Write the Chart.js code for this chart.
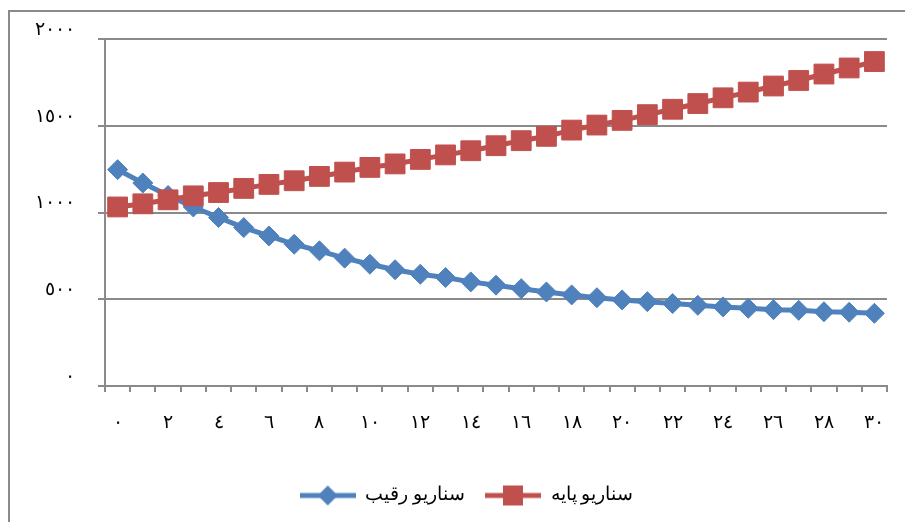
<!DOCTYPE html>
<html>
<head>
<meta charset="utf-8">
<script src="https://cdn.jsdelivr.net/npm/chart.js@4"></script>
<style>
  body { margin: 0; background: #fff; }
  #wrap { position: relative; width: 905px; height: 522px; }
</style>
</head>
<body>
<div id="wrap"><canvas id="scenarioChart"></canvas></div>
<script>
// Data
const categories = ['٠','١','٢','٣','٤','٥','٦','٧','٨','٩','١٠','١١','١٢','١٣','١٤','١٥',
                    '١٦','١٧','١٨','١٩','٢٠','٢١','٢٢','٢٣','٢٤','٢٥','٢٦','٢٧','٢٨','٢٩','٣٠'];
const yTickLabels = ['٠','٥٠٠','١٠٠٠','١٥٠٠','٢٠٠٠'];
const seriesNames = ['سناريو رقيب', 'سناريو پايه'];
const rivalScenario = [1247,1170,1098,1032,971,913,865,817,779,737,702,670,644,625,600,581,
                       561,542,525,509,496,486,475,465,456,448,440,436,428,425,419];
const baseScenario = [1032,1050,1073,1096,1115,1139,1162,1183,1208,1233,1260,1280,1306,1332,1356,1385,
                      1414,1439,1475,1504,1531,1564,1595,1628,1661,1694,1729,1761,1798,1833,1870];

const BLUE = '#4F81BD';
const RED = '#C0504D';
const GRID = '#8a8a8a';
const FONT = "'Times New Roman', 'Liberation Serif', 'DejaVu Serif', serif";

// line + marker sample for the legend
function legendMarker(color, shape) {
    const c = document.createElement('canvas');
    c.width = 56;
    c.height = 22;
    const g = c.getContext('2d');
    g.strokeStyle = color;
    g.lineWidth = 5;
    g.beginPath();
    g.moveTo(0, 11);
    g.lineTo(56, 11);
    g.stroke();
    g.fillStyle = color;
    g.beginPath();
    if (shape === 'diamond') {
        g.moveTo(28, 1); g.lineTo(38, 11); g.lineTo(28, 21); g.lineTo(18, 11);
    } else {
        g.rect(18, 1, 20, 20);
    }
    g.fill();
    return c;
}
const markers = [legendMarker(BLUE, 'diamond'), legendMarker(RED, 'square')];

// outer frame of the chart, and legend nudged right like the original
const framePlugin = {
    id: 'frame',
    afterLayout(chart) {
        chart.legend.left += 18;
        chart.legend.right += 18;
    },
    beforeDraw(chart) {
        const ctx = chart.ctx;
        ctx.save();
        ctx.fillStyle = '#fff';
        ctx.fillRect(0, 0, chart.width, chart.height);
        ctx.strokeStyle = GRID;
        ctx.lineWidth = 2;
        ctx.strokeRect(9, 11, 1000, 1000);
        ctx.restore();
    }
};

new Chart(document.getElementById('scenarioChart').getContext('2d'), {
    type: 'line',
    data: {
        labels: categories,
        datasets: [{
            label: seriesNames[0],
            data: rivalScenario,
            borderColor: BLUE,
            backgroundColor: BLUE,
            borderWidth: 5,
            pointStyle: 'rectRot',
            pointRadius: 10,
            pointBorderWidth: 1,
            pointBorderColor: BLUE,
            tension: 0,
            order: 1
        }, {
            label: seriesNames[1],
            data: baseScenario,
            borderColor: RED,
            backgroundColor: RED,
            borderWidth: 5,
            pointStyle: 'rect',
            pointRadius: 14,
            pointBorderWidth: 1,
            pointBorderColor: RED,
            tension: 0,
            order: 0
        }]
    },
    options: {
        responsive: true,
        maintainAspectRatio: false,
        animation: false,
        layout: { padding: { left: 10, top: 39, right: 18, bottom: 7 } },
        plugins: {
            tooltip: { enabled: false },
            legend: {
                position: 'bottom',
                labels: {
                    usePointStyle: true,
                    pointStyleWidth: 56,
                    boxHeight: 19,
                    padding: 20,
                    color: '#000',
                    font: { family: FONT, size: 19 },
                    generateLabels: chart => chart.data.datasets.map((ds, i) => ({
                        text: ds.label,
                        pointStyle: markers[i],
                        fillStyle: ds.borderColor,
                        strokeStyle: ds.borderColor,
                        lineWidth: 0,
                        datasetIndex: i,
                        hidden: false
                    }))
                }
            }
        },
        scales: {
            x: {
                offset: true,
                grid: {
                    offset: true,
                    drawOnChartArea: false,
                    tickLength: 6,
                    color: GRID,
                    lineWidth: 2
                },
                border: { color: GRID, width: 2 },
                ticks: {
                    autoSkip: false,
                    maxRotation: 0,
                    padding: 20,
                    color: '#000',
                    font: { family: FONT, size: 19 },
                    callback: (v, i) => (i % 2 === 0 ? categories[i] : '')
                },
                afterFit: s => { s.height = 80; }
            },
            y: {
                min: 0,
                max: 2000,
                grid: { color: GRID, lineWidth: 2, tickLength: 7 },
                border: { color: GRID, width: 2 },
                ticks: {
                    stepSize: 500,
                    padding: 23,
                    labelOffset: -9,
                    color: '#000',
                    font: { family: FONT, size: 19 },
                    callback: (v, i) => yTickLabels[i]
                },
                afterFit: s => { s.width = 95; }
            }
        }
    },
    plugins: [framePlugin]
});
</script>
</body>
</html>
